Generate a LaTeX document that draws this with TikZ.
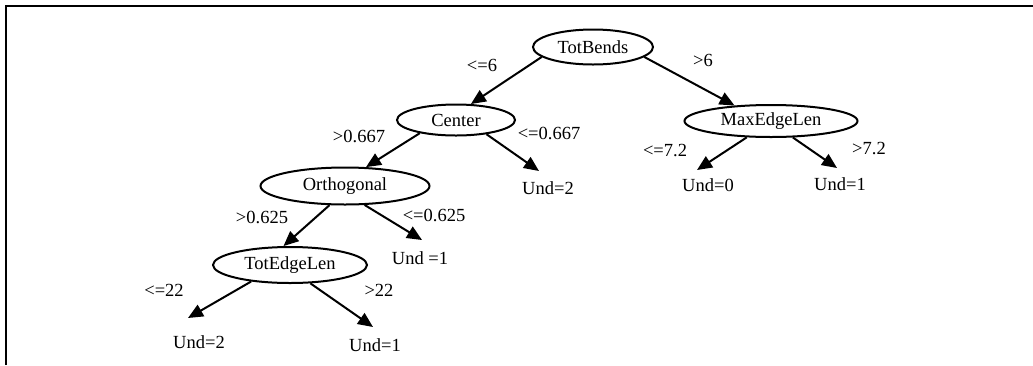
\documentclass[tikz,border=0pt]{standalone}
\usepackage{fontspec}
\setmainfont{Liberation Serif}
\usetikzlibrary{shapes.geometric,arrows.meta}
\begin{document}
\begin{tikzpicture}[x=1pt,y=-1pt,
  font=\fontsize{18.5}{22}\selectfont,
  test/.style={ellipse,draw,line width=2pt,inner sep=0pt},
  leaf/.style={inner sep=0pt},
  cond/.style={inner sep=0pt},
  edge/.style={line width=2pt,-{Triangle[length=15pt,width=13pt]}},
  frame/.style={line width=2.5pt}]
\useasboundingbox (0,0) rectangle (1033,365);
% open frame: top and left rules
\draw[frame] (6,365) -- (6,6) -- (1033,6);

% decision nodes
\node[test,minimum width=120pt,minimum height=35pt] (tb)  at (593,47)  {TotBends};
\node[test,minimum width=118pt,minimum height=31pt] (ce)  at (456,120) {Center};
\node[test,minimum width=173pt,minimum height=32pt] (mx)  at (771,121) {MaxEdgeLen};
\node[test,minimum width=169pt,minimum height=37pt] (og)  at (345,186) {Orthogonal};
\node[test,minimum width=154pt,minimum height=36pt] (tel) at (290,265) {TotEdgeLen};

% leaves
\node[leaf] (c2) at (548,188) {Und=2};
\node[leaf] (u0) at (708,185) {Und=0};
\node[leaf] (u1) at (840,184) {Und=1};
\node[leaf] (o1) at (420,258) {Und =1};
\node[leaf] (t2) at (199,342) {Und=2};
\node[leaf] (t1) at (375,345) {Und=1};

% branch conditions
\node[cond] (l1)  at (482,65)  {<=6};
\node[cond] (l2)  at (703,60)  {>6};
\node[cond] (l3)  at (359,136) {>0.667};
\node[cond] (l4)  at (549,133) {<=0.667};
\node[cond] (l5)  at (665,151) {<=7.2};
\node[cond] (l6)  at (869,149) {>7.2};
\node[cond] (l7)  at (262,217) {>0.625};
\node[cond] (l8)  at (434,215) {<=0.625};
\node[cond] (l9)  at (164,290) {<=22};
\node[cond] (l10) at (379,290) {>22};

% branches
\draw[edge] (tb.191) -- (ce.47);
\draw[edge] (tb.349) -- (mx.157);
\draw[edge] (ce.200) -- (og.42);
\draw[edge] (ce.335) -- ([shift={(-9pt,17pt)}]c2.center);
\draw[edge] (mx.214) -- ([shift={(-11pt,15pt)}]u0.center);
\draw[edge] (mx.323) -- ([shift={(-3pt,16pt)}]u1.center);
\draw[edge] (og.231) -- (tel.109);
\draw[edge] (og.316) -- ([shift={(2pt,18pt)}]o1.center);
\draw[edge] (tel.203) -- ([shift={(-11pt,24pt)}]t2.center);
\draw[edge] (tel.318) -- ([shift={(-2pt,18pt)}]t1.center);
\end{tikzpicture}
\end{document}
